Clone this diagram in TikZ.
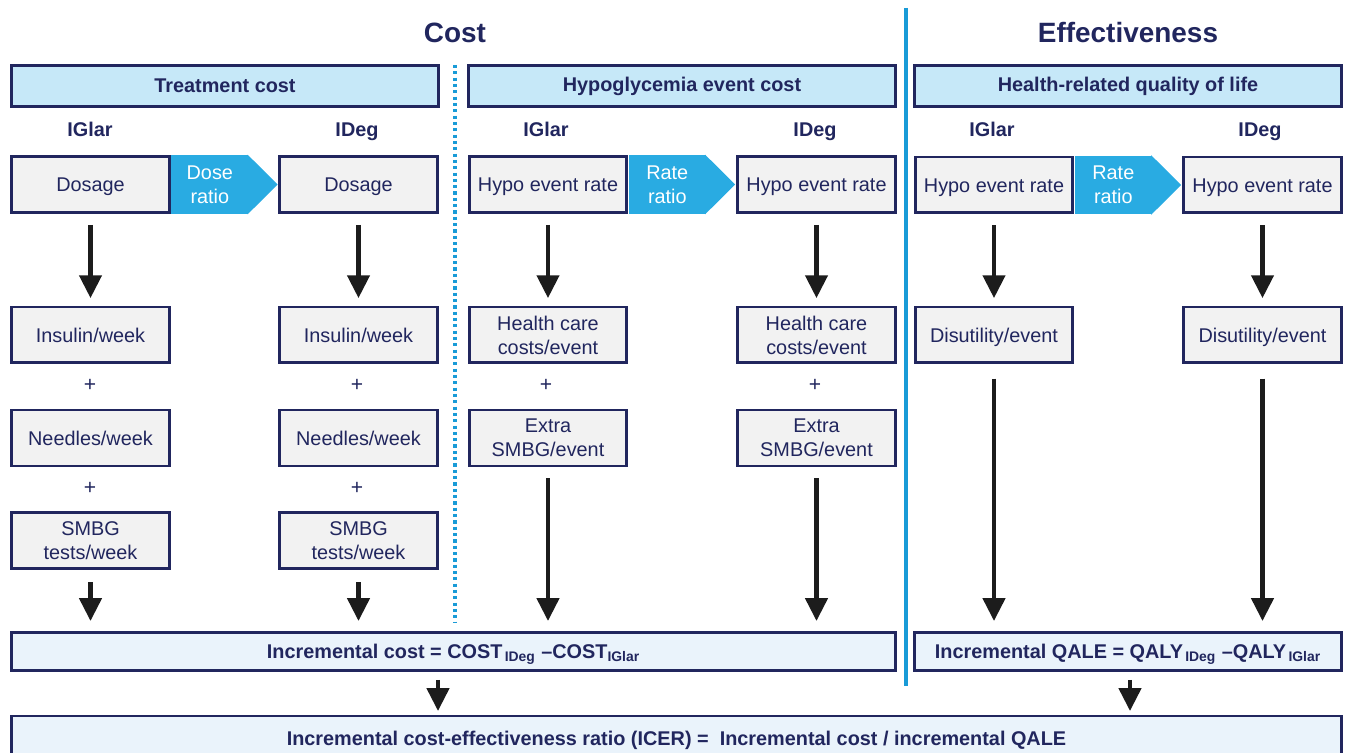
\documentclass[tikz,border=0pt]{standalone}
\usepackage{fontspec}
\setmainfont{Liberation Sans}
\usepackage{tikz}
\usetikzlibrary{positioning}
\usetikzlibrary{arrows.meta}
\definecolor{navy}{RGB}{33,38,94}
\definecolor{headblue}{RGB}{198,232,248}
\definecolor{boxgray}{RGB}{242,242,242}
\definecolor{sumblue}{RGB}{234,243,251}
\definecolor{ratioblue}{RGB}{41,171,226}
\definecolor{lineblue}{RGB}{25,155,215}
\definecolor{arrowblk}{RGB}{28,28,28}
\newcommand{\boxfont}{\fontsize{11.3}{13.6}\selectfont}

\begin{document}
\begin{tikzpicture}[x=0.02cm,y=-0.02cm]

\tikzstyle{box}=[draw=navy, line width=1.7pt, fill=boxgray, text=navy, minimum width=3.16cm, minimum height=1.12cm, align=center, inner sep=1pt, font=\boxfont]
\tikzstyle{one}=[text height=10.4pt, text depth=2.4pt]
\tikzstyle{head}=[draw=navy, line width=1.7pt, fill=headblue, text=navy, minimum width=8.54cm, minimum height=0.82cm, font=\boxfont\bfseries]
\tikzstyle{sum}=[draw=navy, line width=1.7pt, fill=sumblue, text=navy, minimum height=0.76cm, text height=10.4pt, text depth=2.4pt, inner sep=1pt, font=\boxfont\bfseries]
\tikzstyle{ratio}=[fill=ratioblue, text=white, minimum width=1.54cm, minimum height=1.18cm, inner sep=0pt, align=center, font=\boxfont]
\tikzstyle{title}=[text=navy, font=\fontsize{15.9}{18}\selectfont\bfseries]
\tikzstyle{arm}=[text=navy, text height=8.2pt, text depth=2.4pt, font=\boxfont\bfseries]
\tikzstyle{plus}=[text=navy, font=\fontsize{12}{14}\selectfont]
\tikzstyle{down}=[draw=arrowblk, line width=2.5pt, -{Triangle[width=12.5pt,length=13pt]}]

\clip (0,0) rectangle (1347,753);

% titles and dividers
\node[title] at (455,33) (tcost) {Cost};
\node[title] at (1128,33) (teff) {Effectiveness};
\draw[lineblue, line width=1.8pt] (906,8) to (906,686);
\draw[lineblue, line width=1.8pt, dash pattern=on 1.8pt off 1.8pt] (455,65) to (455,622);

\node[head] at (225,86) (htreat) {Treatment cost};
\node[head] at (682,86) (hhypo) {Hypoglycemia event cost};
\node[head] at (1128,86) (hqol) {Health-related quality of life};

\node[arm] at (90,131) (a1) {IGlar};
\node[arm] at (357,131) (a2) {IDeg};
\node[arm] at (546,131) (a3) {IGlar};
\node[arm] at (815,131) (a4) {IDeg};
\node[arm] at (992,131) (a5) {IGlar};
\node[arm] at (1260,131) (a6) {IDeg};

% treatment cost
\node[box, one] at (90.5,184.5) (dos1) {Dosage};
\node[box, one] at (358.5,184.5) (dos2) {Dosage};
\node[ratio, right=0pt of dos1] (dratio) {Dose\\ratio};
\fill[ratioblue] ([xshift=-0.6pt]dratio.north east) -- ([xshift=0.58cm]dratio.east) -- ([xshift=-0.6pt]dratio.south east) -- cycle;

\node[box, one] at (90.5,335) (ins1) {Insulin/week};
\node[box, one] at (358.5,335) (ins2) {Insulin/week};
\node[plus] at (90,385) (p1) {+};
\node[plus] at (357,385) (p2) {+};
\node[box, one] at (90.5,438) (ndl1) {Needles/week};
\node[box, one] at (358.5,438) (ndl2) {Needles/week};
\node[plus] at (90,488) (p3) {+};
\node[plus] at (357,488) (p4) {+};
\node[box] at (90.5,540.5) (smbg1) {SMBG\\tests/week};
\node[box] at (358.5,540.5) (smbg2) {SMBG\\tests/week};

% hypoglycemia event cost
\node[box, one] at (548,184.5) (hyp1) {Hypo event rate};
\node[box, one] at (816.5,184.5) (hyp2) {Hypo event rate};
\node[ratio, right=0pt of hyp1] (rratio) {Rate\\ratio};
\fill[ratioblue] ([xshift=-0.6pt]rratio.north east) -- ([xshift=0.58cm]rratio.east) -- ([xshift=-0.6pt]rratio.south east) -- cycle;

\node[box] at (548,335) (hc1) {Health care\\costs/event};
\node[box] at (816.5,335) (hc2) {Health care\\costs/event};
\node[plus] at (546,385) (p5) {+};
\node[plus] at (815,385) (p6) {+};
\node[box] at (548,438) (ext1) {Extra\\SMBG/event};
\node[box] at (816.5,438) (ext2) {Extra\\SMBG/event};

% effectiveness
\node[box, one] at (994,185) (eff1) {Hypo event rate};
\node[box, one] at (1262.5,185) (eff2) {Hypo event rate};
\node[ratio, right=0pt of eff1] (eratio) {Rate\\ratio};
\fill[ratioblue] ([xshift=-0.6pt]eratio.north east) -- ([xshift=0.58cm]eratio.east) -- ([xshift=-0.6pt]eratio.south east) -- cycle;

\node[box, one] at (994,335) (dis1) {Disutility/event};
\node[box, one] at (1262.5,335) (dis2) {Disutility/event};

% results
\node[sum, minimum width=17.68cm] at (453.5,651.5) (inccost) {Incremental cost = COST\textsubscript{\,IDeg} --COST\textsubscript{IGlar}};
\node[sum, minimum width=8.54cm] at (1128,651.5) (incqale) {Incremental QALE = QALY\textsubscript{\,IDeg} --QALY\textsubscript{\,IGlar}};
\node[sum, minimum width=26.6cm, minimum height=0.88cm] at (676.5,738) (icer) {Incremental cost-effectiveness ratio (ICER) =\ \ Incremental cost / incremental QALE};

\draw[down, shorten <=6.2pt, shorten >=4.2pt] (dos1) to (ins1);
\draw[down, shorten <=6.2pt, shorten >=4.2pt] (dos2) to (ins2);
\draw[down, shorten <=6.2pt, shorten >=4.2pt] (hyp1) to (hc1);
\draw[down, shorten <=6.2pt, shorten >=4.2pt] (hyp2) to (hc2);
\draw[down, shorten <=6.2pt, shorten >=4.2pt] (eff1) to (dis1);
\draw[down, shorten <=6.2pt, shorten >=4.2pt] (eff2) to (dis2);

\draw[down, shorten <=7pt, shorten >=5.7pt] (smbg1) to (smbg1 |- inccost.north);
\draw[down, shorten <=7pt, shorten >=5.7pt] (smbg2) to (smbg2 |- inccost.north);
\draw[down, shorten <=6pt, shorten >=5.7pt] (ext1) to (ext1 |- inccost.north);
\draw[down, shorten <=6pt, shorten >=5.7pt] (ext2) to (ext2 |- inccost.north);
\draw[down, shorten <=8pt, shorten >=5.7pt] (dis1) to (dis1 |- incqale.north);
\draw[down, shorten <=8pt, shorten >=5.7pt] (dis2) to (dis2 |- incqale.north);

\draw[down, shorten <=4.5pt, shorten >=2pt] ([xshift=-0.31cm]inccost.south) to ([xshift=-0.31cm]inccost.south |- icer.north);
\draw[down, shorten <=4.5pt, shorten >=2pt] ([xshift=0.04cm]incqale.south) to ([xshift=0.04cm]incqale.south |- icer.north);

\end{tikzpicture}
\end{document}
